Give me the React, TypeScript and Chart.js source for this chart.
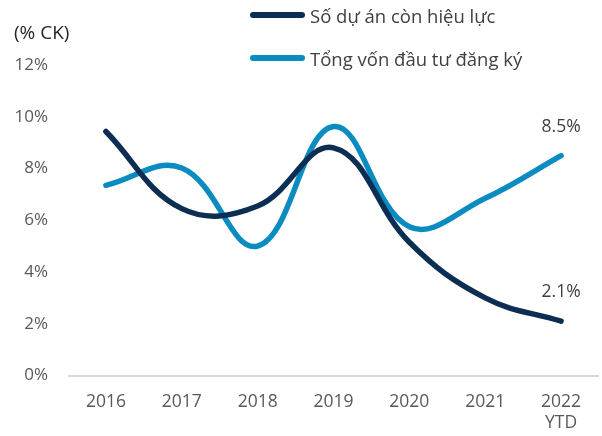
import React, { useEffect, useRef } from "react";
import { Chart, registerables } from "chart.js";

Chart.register(...registerables);

const categories: (string | string[])[] = ["2016", "2017", "2018", "2019", "2020", "2021", ["2022", "YTD"]];
const projectsValues = [9.43, 6.45, 6.55, 8.8, 5.15, 3.0, 2.1];
const capitalValues = [7.35, 8.02, 5.0, 9.62, 5.75, 6.85, 8.5];
const seriesNames = ["Số dự án còn hiệu lực", "Tổng vốn đầu tư đăng ký"];
const lastLabels = ["2.1%", "8.5%"];
const yTicks = [0, 2, 4, 6, 8, 10, 12];

const DARK = "#0b2e52";
const LIGHT = "#0a8cc0";
const FONT = "'Open Sans', 'Noto Sans', sans-serif";

const endLabelPlugin = {
  id: "endLabels",
  afterDatasetsDraw(chart: any) {
    const ctx = chart.ctx;
    ctx.save();
    ctx.font = `17.5px ${FONT}`;
    ctx.fillStyle = "#404040";
    ctx.textAlign = "center";
    ctx.textBaseline = "middle";
    chart.data.datasets.forEach((ds: any, i: number) => {
      const meta = chart.getDatasetMeta(i);
      const pt = meta.data[meta.data.length - 1];
      if (!pt) return;
      ctx.fillText(lastLabels[i], pt.x, pt.y - 29);
    });
    ctx.restore();
  },
};

export default function App() {
  const ref = useRef<HTMLCanvasElement>(null);
  useEffect(() => {
    if (!ref.current) return;
    const chart = new Chart(ref.current, {
      type: "line",
      data: {
        labels: categories,
        datasets: [
          {
            label: seriesNames[0],
            data: projectsValues,
            borderColor: DARK,
            backgroundColor: DARK,
            borderWidth: 5.5,
            tension: 0.4,
            pointRadius: 0,
            borderCapStyle: "round",
            borderJoinStyle: "round",
          },
          {
            label: seriesNames[1],
            data: capitalValues,
            borderColor: LIGHT,
            backgroundColor: LIGHT,
            borderWidth: 5.5,
            tension: 0.4,
            pointRadius: 0,
            borderCapStyle: "round",
            borderJoinStyle: "round",
          },
        ],
      },
      options: {
        responsive: false,
        animation: false,
        layout: { padding: { top: 65, right: 3, left: 0, bottom: 0 } },
        plugins: {
          legend: { display: false },
          tooltip: { enabled: false },
        },
        scales: {
          x: {
            offset: true,
            grid: { display: false },
            border: { display: false },
            ticks: {
              color: "#595959",
              font: { family: FONT, size: 17.5, lineHeight: 1.2 },
              padding: 8,
              maxRotation: 0,
              autoSkip: false,
            },
            afterFit(scale: any) {
              scale.height = 60.5;
            },
          },
          y: {
            min: 0,
            max: 12,
            afterBuildTicks(scale: any) {
              scale.ticks = yTicks.map((v) => ({ value: v }));
            },
            grid: {
              color: (c: any) => (c.tick && c.tick.value === 0 ? "#d9d9d9" : "rgba(0,0,0,0)"),
              lineWidth: 2,
              drawTicks: false,
            },
            border: { display: false },
            ticks: {
              color: "#595959",
              font: { family: FONT, size: 17 },
              padding: 20,
              callback: (v: any) => `${v}%`,
            },
            afterFit(scale: any) {
              scale.width = 68;
            },
          },
        },
      },
      plugins: [endLabelPlugin],
    });
    return () => chart.destroy();
  }, []);

  const legendRow = (name: string, color: string, top: number) => (
    <div
      style={{
        position: "absolute",
        left: 250,
        top: top - 14,
        height: 28,
        display: "flex",
        alignItems: "center",
        fontFamily: FONT,
        fontSize: 18.5,
        color: "#404040",
        whiteSpace: "nowrap",
      }}
    >
      <span
        style={{
          display: "inline-block",
          width: 55,
          height: 6,
          borderRadius: 3,
          background: color,
          marginRight: 5,
        }}
      />
      {name}
    </div>
  );

  return (
    <div style={{ position: "fixed", left: 0, top: 0, width: 602, height: 436, background: "#fff" }}>
      <canvas ref={ref} width={602} height={436} style={{ position: "absolute", left: 0, top: 0 }} />
      <div
        style={{
          position: "absolute",
          left: 14,
          top: 18,
          fontFamily: FONT,
          fontSize: 19,
          color: "#262626",
          lineHeight: "28px",
        }}
      >
        (% CK)
      </div>
      {legendRow(seriesNames[0], DARK, 15)}
      {legendRow(seriesNames[1], LIGHT, 58)}
    </div>
  );
}
